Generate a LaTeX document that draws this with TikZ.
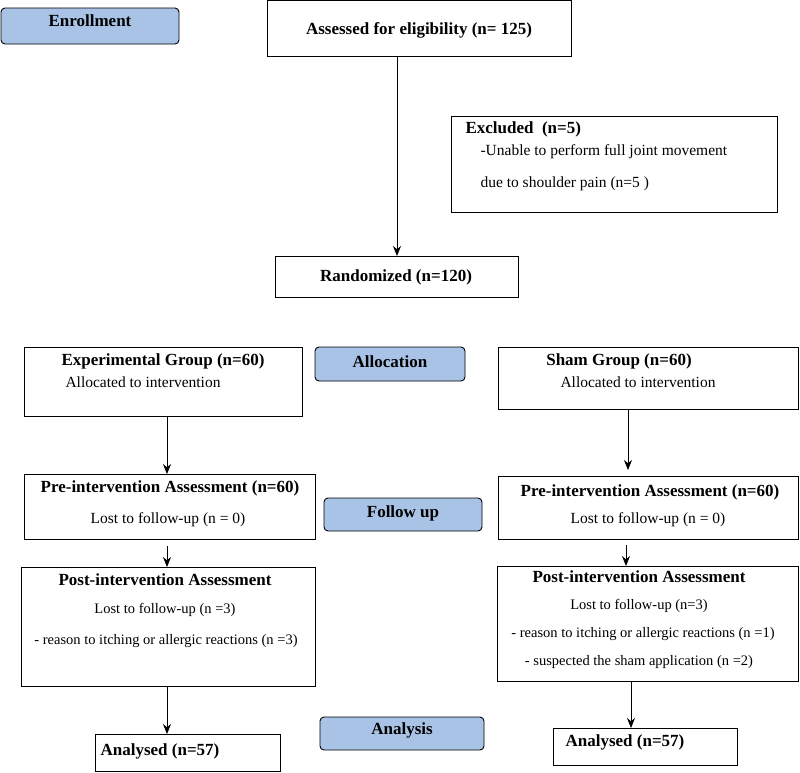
\documentclass[tikz,border=0pt]{standalone}
\usepackage{fontspec}
\setmainfont{Liberation Serif}
\usetikzlibrary{arrows.meta}
\definecolor{lab}{HTML}{A9C3E6}
\begin{document}
\begin{tikzpicture}[x=1pt,y=-1pt,
 box/.style={draw,line width=0.9pt,inner sep=0pt},
 lbl/.style={draw,line width=0.9pt,fill=lab,rounded corners=4pt},
 bt/.style={font=\bfseries\fontsize{17}{19}\selectfont},
 nt/.style={font=\fontsize{15.5}{18}\selectfont},
 st/.style={font=\fontsize{14.5}{16}\selectfont},
 arr/.style={-{Stealth[length=10pt,width=8pt]},line width=0.9pt}]
\useasboundingbox (0,0) rectangle (800,772);
\draw[lbl] (1,8) rectangle (179,44); \node[bt] (en) at (90,21) {Enrollment};
\draw[box] (267,0) rectangle (571,56); \node[bt] (as) at (419,30) {Assessed for eligibility (n= 125)};
\draw[box] (451,116) rectangle (777,212);
\node[bt,anchor=west] (ex) at (462,129) {Excluded\ \ (n=5)};
\node[nt,anchor=west] (ex1) at (477,152) {-Unable to perform full joint movement};
\node[nt,anchor=west] (ex2) at (477,184) {due to shoulder pain (n=5 )};
\draw[box] (275,256) rectangle (518,297); \node[bt] (ra) at (396,277) {Randomized (n=120)};
\draw[box] (24,347) rectangle (302,416);
\node[bt] (eg) at (163,361) {Experimental Group (n=60)};
\node[nt] (eg2) at (143,382) {Allocated to intervention};
\draw[lbl] (315,347) rectangle (465,381); \node[bt] (al) at (390,362) {Allocation};
\draw[box] (498,347) rectangle (798,409);
\node[bt] (sg) at (619,361) {Sham Group (n=60)};
\node[nt] (sg2) at (638,382) {Allocated to intervention};
\draw[box] (24,474) rectangle (315,539);
\node[bt] (p1) at (170,488) {Pre-intervention Assessment (n=60)};
\node[nt] (p1b) at (168,520) {Lost to follow-up (n = 0)};
\draw[lbl] (324,498) rectangle (482,531); \node[bt] (fu) at (403,513) {Follow up};
\draw[box] (498,476) rectangle (798,539);
\node[bt] (p2) at (650,492) {Pre-intervention Assessment (n=60)};
\node[nt] (p2b) at (648,520) {Lost to follow-up (n = 0)};
\draw[box] (21,567) rectangle (315,686);
\node[bt] (q1) at (165,580) {Post-intervention Assessment};
\node[st] (q1b) at (165,610) {Lost to follow-up (n =3)};
\node[st] (q1c) at (166,641) {- reason to itching or allergic reactions (n =3)};
\draw[box] (497,566) rectangle (798,681);
\node[bt] (q2) at (639,577) {Post-intervention Assessment};
\node[st] (q2b) at (639,606) {Lost to follow-up (n=3)};
\node[st] (q2c) at (643,634) {- reason to itching or allergic reactions (n =1)};
\node[st] (q2d) at (639,662) {- suspected the sham application (n =2)};
\draw[lbl] (320,717) rectangle (484,750); \node[bt] (an) at (402,730) {Analysis};
\draw[box] (95,734) rectangle (280,771); \node[bt] (a1) at (160,751) {Analysed (n=57)};
\draw[box] (553,728) rectangle (737,765); \node[bt] (a2) at (625,742) {Analysed (n=57)};
\coordinate (c1) at (397,56); \coordinate (c2) at (397,256);
\draw[arr] (c1) -- (c2);
\coordinate (l1) at (167,416); \coordinate (l2) at (167,474);
\coordinate (l3) at (167,546); \coordinate (l4) at (167,567);
\coordinate (l5) at (167,686); \coordinate (l6) at (167,734);
\coordinate (r1) at (628,409); \coordinate (r2) at (628,470);
\coordinate (r3) at (626,545); \coordinate (r4) at (626,566);
\coordinate (r5) at (631,681); \coordinate (r6) at (631,728);
\draw[arr] (l1)--(l2); \draw[arr] (l3)--(l4); \draw[arr] (l5)--(l6);
\draw[arr] (r1)--(r2); \draw[arr] (r3)--(r4); \draw[arr] (r5)--(r6);
\end{tikzpicture}
\end{document}
